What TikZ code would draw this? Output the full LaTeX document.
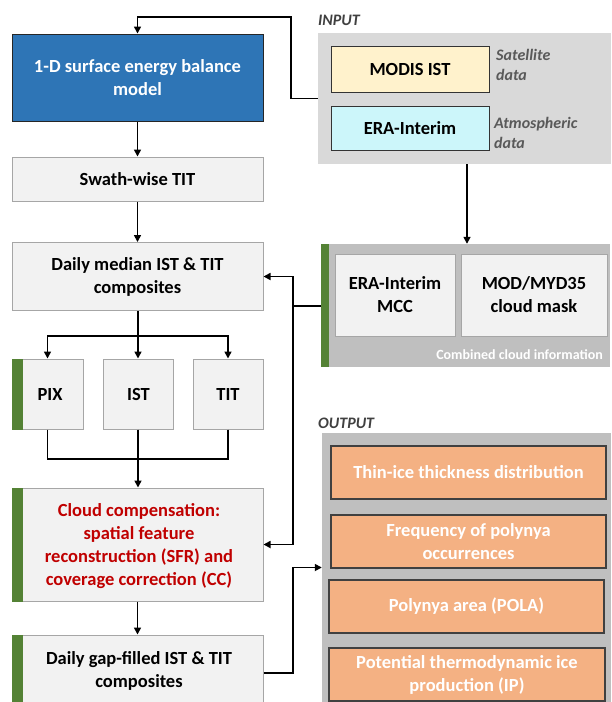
\documentclass[tikz,border=0pt]{standalone}
\usepackage{fontspec}
\setmainfont{Carlito}
\usetikzlibrary{arrows.meta,calc}
\definecolor{boxfill}{HTML}{F2F2F2}
\definecolor{boxline}{HTML}{A6A6A6}
\definecolor{modelblue}{HTML}{2E75B6}
\definecolor{barGreen}{HTML}{548235}
\definecolor{panelLight}{HTML}{D9D9D9}
\definecolor{panelDark}{HTML}{BFBFBF}
\definecolor{satYellow}{HTML}{FFF2CC}
\definecolor{atmCyan}{HTML}{CCF6FA}
\definecolor{outOrange}{HTML}{F4B183}
\definecolor{labelGray}{HTML}{595959}
\definecolor{cloudRed}{HTML}{C00000}
\tikzset{
  x=1pt, y=-1pt,
  base/.style={rectangle, inner sep=0pt, align=center, font=\fontsize{18.5}{23}\selectfont\bfseries},
  procbox/.style={base, draw=boxline, fill=boxfill, line width=1pt},
  modelbox/.style={base, draw=black!85, fill=modelblue, text=white, line width=1pt},
  srcbox/.style={base, draw=black!80, line width=1pt},
  outbox/.style={base, draw=black!75, fill=outOrange, text=white, line width=1.2pt},
  panel/.style={rectangle, inner sep=0pt, draw=none},
  greenbar/.style={fill=barGreen, draw=none},
  arr/.style={line width=1.6pt, -{Triangle[length=7pt,width=7pt]}},
  ln/.style={line width=1.6pt},
  sidenote/.style={font=\fontsize{16}{19.5}\selectfont\bfseries\itshape, text=labelGray, align=left, anchor=west, inner sep=0pt},
  sectionlabel/.style={font=\fontsize{16}{18}\selectfont\bfseries\itshape, text=black!75, anchor=west, inner sep=0pt}
}
\begin{document}
\begin{tikzpicture}
\useasboundingbox (0,0) rectangle (611,702);

% ---------- processing chain (left column) ----------
\node[modelbox, minimum width=251pt, minimum height=87pt] (model) at (137.5,77.5)
  {1-D surface energy balance\\model};
\node[procbox, minimum width=251pt, minimum height=44pt] (swath) at (137.5,179) {Swath-wise TIT};
\node[procbox, minimum width=251pt, minimum height=68pt] (median) at (137.5,276.5)
  {Daily median IST \& TIT\\composites};

\node[procbox, minimum width=71pt, minimum height=70pt] (pix) at (47.5,394) {};
\fill[greenbar] (pix.north west) rectangle ([xshift=11pt]pix.south west);
\node[base] at (50,394) {PIX};
\node[procbox, minimum width=70pt, minimum height=70pt] (ist) at (138.5,394) {IST};
\node[procbox, minimum width=70pt, minimum height=70pt] (tit) at (228,394) {TIT};

\node[procbox, minimum width=251pt, minimum height=113pt] (cloud) at (137.5,544.5) {};
\fill[greenbar] (cloud.north west) rectangle ([xshift=11pt]cloud.south west);
\node[base, text=cloudRed] at (139,546)
  {Cloud compensation:\\spatial feature\\reconstruction (SFR) and\\coverage correction (CC)};

\node[procbox, minimum width=251pt, minimum height=76pt] (gap) at (137.5,673) {};
\fill[greenbar] (gap.north west) rectangle ([xshift=11pt]gap.south west);
\node[base] at (139,671) {Daily gap-filled IST \& TIT\\composites};

% ---------- input panel ----------
\node[sectionlabel] (inlabel) at (318,20) {INPUT};
\node[panel, fill=panelLight, minimum width=293pt, minimum height=131pt] (input) at (464.5,98.5) {};
\node[srcbox, fill=satYellow, minimum width=158pt, minimum height=46pt] (modis) at (410,69) {MODIS IST};
\node[srcbox, fill=atmCyan, minimum width=158pt, minimum height=44pt] (era) at (410,128) {ERA-Interim};
\node[sidenote] (satnote) at (496,65) {Satellite\\data};
\node[sidenote] (atmnote) at (494,133) {Atmospheric\\data};

% ---------- cloud information panel ----------
\node[panel, fill=panelDark, minimum width=281pt, minimum height=123pt] (cinfo) at (469.5,305.5) {};
\fill[greenbar] (321,244) rectangle (329,367);
\coordinate (cbarw) at (321,306);
\node[procbox, minimum width=120pt, minimum height=82pt] (mcc) at (395,295) {ERA-Interim\\MCC};
\node[procbox, minimum width=146pt, minimum height=82pt] (mask) at (534,295) {MOD/MYD35\\cloud mask};
\node[font=\fontsize{14}{16}\selectfont\bfseries, text=white, anchor=east, inner sep=0pt] (cinlabel)
  at (603,355) {Combined cloud information};

% ---------- output panel ----------
\node[sectionlabel] (outlabel) at (318,423) {OUTPUT};
\node[panel, fill=panelDark, minimum width=289pt, minimum height=269pt] (out) at (466.5,567.5) {};
\node[outbox, minimum width=275pt, minimum height=53pt] (o1) at (468.5,472.5) {Thin-ice thickness distribution};
\node[outbox, minimum width=275pt, minimum height=53pt] (o2) at (468.5,541.5) {Frequency of polynya\\occurrences};
\node[outbox, minimum width=275pt, minimum height=53pt] (o3) at (466.5,606.5) {Polynya area (POLA)};
\node[outbox, minimum width=276pt, minimum height=53pt] (o4) at (467,674.5) {Potential thermodynamic ice\\production (IP)};

% ---------- connectors ----------
\coordinate (ret) at (291,17);
\draw[arr] (input.west) -| (ret) -| (model.north);
\draw[arr] (model.south) -- (swath.north);
\draw[arr] (swath.south) -- (median.north);

\coordinate (split) at (138,336);
\draw[ln] (median.south -| split) -- (split);
\draw[arr] (split) -| (pix.north);
\draw[arr] (split) -- (ist.north -| split);
\draw[arr] (split) -| (tit.north);

\coordinate (merge) at (138,459);
\draw[ln] (pix.south) |- (merge);
\draw[ln] (tit.south) |- (merge);
\draw[ln] (ist.south -| merge) -- (merge);
\draw[arr] (merge) -- (cloud.north -| merge);

\draw[arr] (cloud.south) -- (gap.north);

\coordinate (inx) at (467,0);
\draw[arr] (input.south -| inx) -- (cinfo.north -| inx);

\coordinate (cj) at (293,306);
\draw[ln] (cbarw) -- (cj);
\draw[arr] (cj) |- (median.east);
\draw[arr] (cj) |- (cloud.east);

\coordinate (ox) at (293,0);
\draw[arr] (gap.east) -- (gap.east -| ox) |- (out.west);
\end{tikzpicture}
\end{document}
